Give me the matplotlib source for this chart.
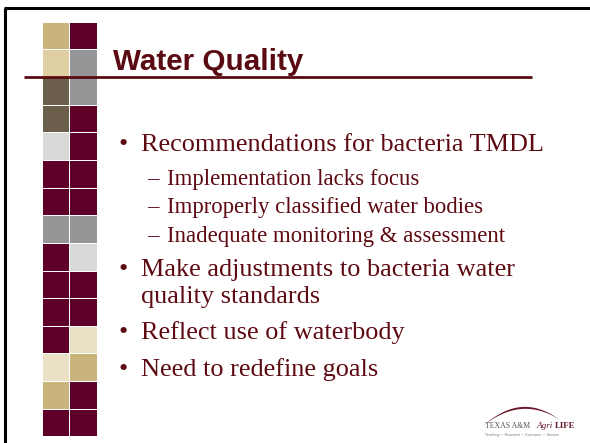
import matplotlib
matplotlib.use("Agg")
import matplotlib.pyplot as plt
from matplotlib.patches import Rectangle, Polygon
import numpy as np

# ---- data ----
MAROON = "#5E0027"
TAN = "#C9B57B"
LTAN = "#E0CFA3"
OLIVE = "#6B5F4B"
GRAY = "#969598"
LGRAY = "#D9D9D9"
CREAM = "#EAE0C5"

left_col = [TAN, LTAN, OLIVE, OLIVE, LGRAY, MAROON, MAROON, GRAY, MAROON, MAROON, MAROON, MAROON, CREAM, TAN, MAROON]
right_col = [MAROON, GRAY, GRAY, MAROON, MAROON, MAROON, MAROON, GRAY, LGRAY, MAROON, MAROON, CREAM, TAN, MAROON, MAROON]

title = "Water Quality"
bullets = [
    (0, "Recommendations for bacteria TMDL", 151),
    (1, "Implementation lacks focus", 185),
    (1, "Improperly classified water bodies", 213),
    (1, "Inadequate monitoring & assessment", 242),
    (0, "Make adjustments to bacteria water", 276),
    (2, "quality standards", 303),
    (0, "Reflect use of waterbody", 339),
    (0, "Need to redefine goals", 376),
]

W, H = 590, 443
fig = plt.figure(figsize=(W / 100, H / 100), dpi=100)
ax = fig.add_axes([0, 0, 1, 1])
ax.set_xlim(0, W)
ax.set_ylim(H, 0)
ax.axis("off")

# frame (left and top edges)
ax.plot([5, 5], [8, H + 5], color="black", lw=2.2, solid_capstyle="butt")
ax.plot([4, W + 5], [8, 8], color="black", lw=2.2, solid_capstyle="butt")

# squares
x0, x1, cw = 42.7, 70.3, 26.7
y0, rh = 22.7, 27.65
for i, (lc, rc) in enumerate(zip(left_col, right_col)):
    y = y0 + i * rh
    ax.add_patch(Rectangle((x0, y), cw, rh - 1, facecolor=lc, edgecolor="none"))
    ax.add_patch(Rectangle((x1, y), cw, rh - 1, facecolor=rc, edgecolor="none"))

# title underline
ax.plot([24, 532], [77, 77], color="#5A0A10", lw=2.0, solid_capstyle="butt")

TXT = "#5E0A12"
ax.text(113, 70, title, fontsize=21.3, fontweight="bold", family="Liberation Sans",
        color="#5A0A12", va="baseline", ha="left")

for level, s, yb in bullets:
    if level == 0:
        ax.text(119, yb, "•", fontsize=19, family="Liberation Serif", color=TXT, va="baseline")
        ax.text(140.7, yb, s, fontsize=18.95, family="Liberation Serif", color=TXT, va="baseline")
    elif level == 2:
        ax.text(140.7, yb, s, fontsize=18.95, family="Liberation Serif", color=TXT, va="baseline")
    else:
        ax.text(147, yb, "–", fontsize=16.4, family="Liberation Serif", color=TXT, va="baseline")
        ax.text(166.7, yb, s, fontsize=16.4, family="Liberation Serif", color=TXT, va="baseline")

# logo
t = np.linspace(0, 1, 50)
xs = 483 + (560 - 483) * t
top = 427 - 17 * np.sin(np.pi * t) ** 0.8 - 6 * t
bot = top + 2.0 * np.sin(np.pi * t)
ax.add_patch(Polygon(np.column_stack([np.r_[xs, xs[::-1]], np.r_[top, bot[::-1]]]),
                     closed=True, facecolor="#6A1A2A", edgecolor="none"))
ax.text(485, 428, "TEXAS A&M", fontsize=5.6, family="Liberation Serif", color="#555555", va="baseline")
ax.text(536, 428, "Agri", fontsize=6.6, family="Liberation Serif", color="#6A1A2A",
        va="baseline", ha="left", style="italic")
ax.text(575, 428, "LIFE", fontsize=6.4, family="Liberation Serif", color="#6A1A2A",
        va="baseline", ha="right", fontweight="bold")
ax.text(485, 436, "Teaching  •  Research  •  Extension  •  Service", fontsize=2.6,
        family="Liberation Sans", color="#777777", va="baseline")

fig.savefig("out.png", dpi=100)
